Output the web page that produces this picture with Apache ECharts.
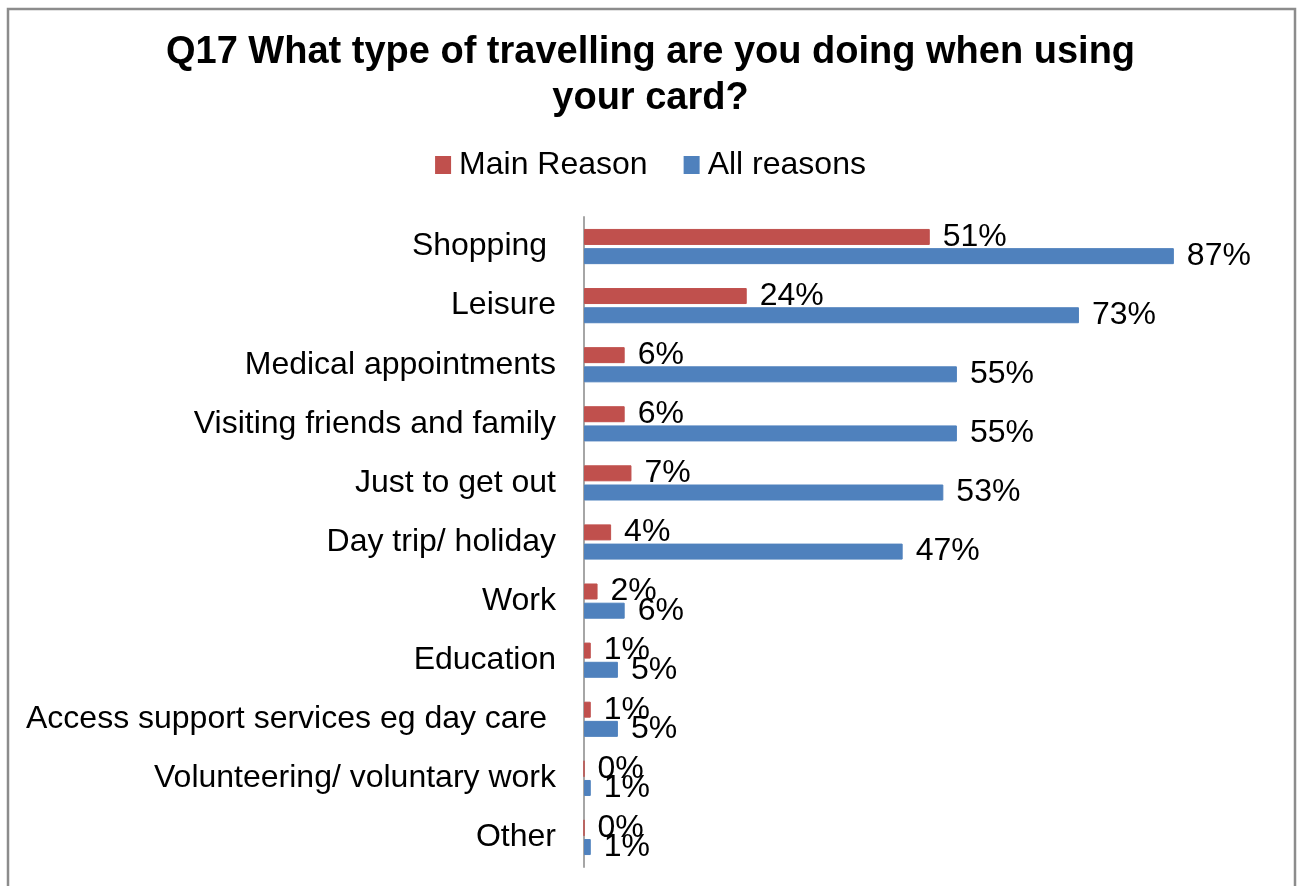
<!DOCTYPE html>
<html>
<head>
<meta charset="utf-8">
<script src="https://cdn.jsdelivr.net/npm/echarts@6/dist/echarts.min.js"></script>
<style>
  html, body { margin: 0; padding: 0; background: #fff; }
  #chart { width: 1301px; height: 886px; }
</style>
</head>
<body>
<div id="chart"></div>
<script>
// Survey responses, Q17: type of travel when using the card (percent of respondents)
const categories = [
  'Shopping ',
  'Leisure',
  'Medical appointments',
  'Visiting friends and family',
  'Just to get out',
  'Day trip/ holiday',
  'Work',
  'Education',
  'Access support services eg day care ',
  'Volunteering/ voluntary work',
  'Other'
];
const mainReason = [51, 24, 6, 6, 7, 4, 2, 1, 1, 0, 0];
const allReasons = [87, 73, 55, 55, 53, 47, 6, 5, 5, 1, 1];
const seriesNames = ['Main Reason', 'All reasons'];

const FONT = '"Liberation Sans", Arial, sans-serif';

const chart = echarts.init(document.getElementById('chart'), null, { renderer: 'canvas' });

const labelStyle = {
  show: true,
  position: 'right',
  distance: 13,
  formatter: '{c}%',
  fontFamily: FONT,
  fontSize: 32,
  color: '#000'
};

chart.setOption({
  animation: false,
  backgroundColor: '#fff',
  graphic: [{
    type: 'rect',
    shape: { x: 8, y: 9, width: 1287, height: 900 },
    style: { fill: 'none', stroke: '#8c8c8c', lineWidth: 2.5 },
    silent: true
  }],
  title: {
    text: 'Q17 What type of travelling are you doing when using\nyour card?',
    left: 'center',
    top: 25,
    textStyle: {
      fontFamily: FONT,
      fontWeight: 'bold',
      fontSize: 38,
      lineHeight: 46,
      color: '#000'
    }
  },
  legend: {
    data: seriesNames,
    top: 144,
    left: 'center',
    itemWidth: 14,
    itemHeight: 16,
    itemGap: 36,
    icon: 'rect',
    textStyle: { fontFamily: FONT, fontSize: 32, color: '#000', padding: [0, 0, 0, 4] }
  },
  grid: { left: 584, right: 39, top: 217, bottom: 19, containLabel: false },
  xAxis: {
    type: 'value',
    min: 0,
    max: 100,
    show: false
  },
  yAxis: {
    type: 'category',
    data: categories,
    inverse: true,
    axisLine: { show: true, lineStyle: { color: '#a6a6a6', width: 2 } },
    axisTick: { show: false },
    axisLabel: { margin: 28, fontFamily: FONT, fontSize: 32, color: '#000' }
  },
  series: [
    {
      name: seriesNames[0],
      type: 'bar',
      data: mainReason,
      barWidth: 16,
      barGap: '20%',
      itemStyle: { color: '#c0504d', borderColor: '#c0504d', borderWidth: 1 },
      label: labelStyle
    },
    {
      name: seriesNames[1],
      type: 'bar',
      data: allReasons,
      barWidth: 16,
      barGap: '20%',
      itemStyle: { color: '#4f81bd', borderColor: '#4f81bd', borderWidth: 1 },
      label: labelStyle
    }
  ]
});
</script>
</body>
</html>
